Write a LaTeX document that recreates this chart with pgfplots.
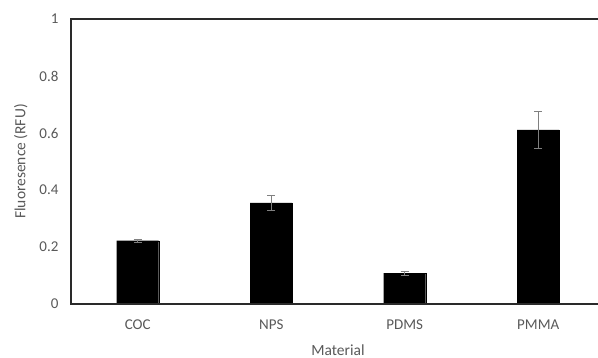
\documentclass[border=0pt]{standalone}
\usepackage{pgfplots}
\pgfplotsset{compat=1.18}
\usepackage{fontspec}
\setmainfont{Carlito}
\definecolor{txtcol}{HTML}{595959}
\definecolor{framecol}{HTML}{2A2A2A}
\begin{document}
\begin{tikzpicture}
\begin{axis}[
  name=ax,
  scale only axis,
  width=534pt, height=285pt,
  xmin=-0.5, xmax=3.5,
  ymin=0, ymax=1,
  ytick={0,0.2,0.4,0.6,0.8,1},
  xtick=data,
  xticklabels={COC,NPS,PDMS,PMMA},
  major tick length=0pt,
  /pgf/number format/assume math mode=true,
  tick label style={font=\fontsize{15}{18}\selectfont, text=txtcol},
  yticklabel style={xshift=-9pt},
  xticklabel style={yshift=-12pt},
  ylabel={Fluoresence (RFU)},
  xlabel={Material},
  label style={font=\fontsize{15.5}{18}\selectfont, text=txtcol},
  ylabel style={at={(axis description cs:0,0.5)}, anchor=south, yshift=40pt},
  xlabel style={at={(axis description cs:0.5,0)}, anchor=center, yshift=-46pt},
  axis line style={draw=framecol, line width=2pt},
  ybar,
  bar width=42pt,
  error bars/y dir=both,
  error bars/y explicit,
  error bars/error bar style={color=gray, line width=0.6pt},
  error bars/error mark options={rotate=90, mark size=4pt, color=gray, line width=0.6pt},
]
\addplot[fill=black, draw=black] coordinates {
  (0,0.222) +- (0,0.005)
  (1,0.355) +- (0,0.025)
  (2,0.108) +- (0,0.006)
  (3,0.611) +- (0,0.064)
};
\end{axis}
\draw[framecol, line width=2pt] ([shift={(530pt,0pt)}]ax.south west) -- (ax.south west) -- (ax.north west) -- ([shift={(530pt,0pt)}]ax.north west);
\pgfresetboundingbox
\path[use as bounding box] ([shift={(-71pt,-54pt)}]ax.south west) rectangle ([shift={(527pt,304pt)}]ax.south west);
\end{tikzpicture}
\end{document}
